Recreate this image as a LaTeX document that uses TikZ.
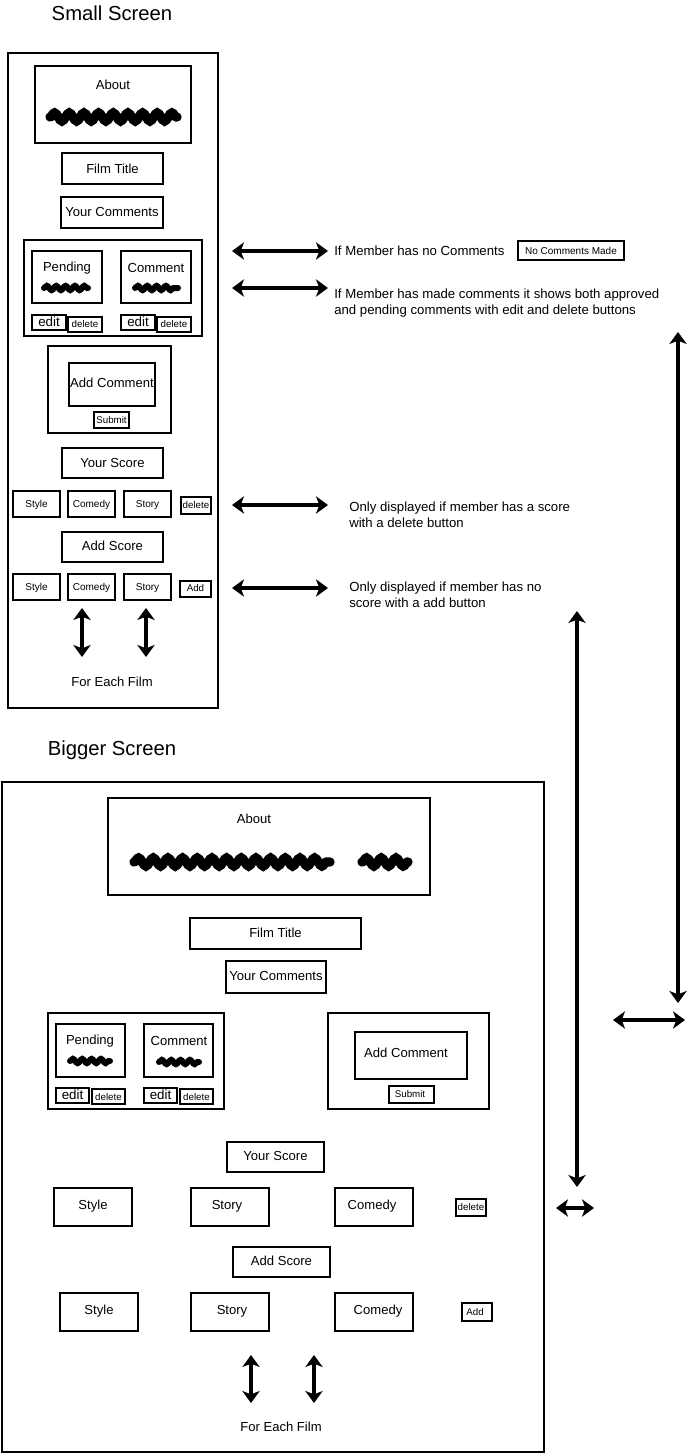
\documentclass[tikz,border=0pt]{standalone}
\usepackage{fontspec}
\setmainfont{Liberation Sans}
\usetikzlibrary{arrows.meta,decorations.pathmorphing}

\tikzset{
  box/.style={line width=1.1pt},
  ttl/.style={font=\fontsize{15.2}{18}\selectfont},
  lbl/.style={font=\fontsize{9.8}{12}\selectfont},
  sml/.style={font=\fontsize{7.5}{9}\selectfont},
  tny/.style={font=\fontsize{7.3}{8}\selectfont, inner sep=0pt},
  edt/.style={font=\fontsize{10}{12}\selectfont, inner sep=0pt},
  note/.style={font=\fontsize{9.9}{12}\selectfont, align=left, anchor=west, inner sep=0pt},
  scrib/.style={line width=7pt, line cap=round, decorate, decoration={snake, amplitude=3pt, segment length=11pt}},
  scribs/.style={line width=4.5pt, line cap=round, decorate, decoration={snake, amplitude=1.6pt, segment length=7pt}},
  dbl/.style={line width=3pt, arrows={Stealth[length=9pt,width=13pt,inset=2.5pt]-Stealth[length=9pt,width=13pt,inset=2.5pt]}}
}

\begin{document}
\begin{tikzpicture}[x=0.75pt, y=-0.75pt]
\useasboundingbox (0,0) rectangle (691,1455);

% Small screen
\node[ttl] (smalltitle) at (112,13) {Small Screen};
\draw[box] (8,53) rectangle (218,708);
\draw[box] (35,66) rectangle (191,143);
\node[lbl] (aboutS) at (113,85) {About};
\draw[scrib] (50,117) -- (177,117);
\draw[box] (62,153) rectangle (163,184);
\node[lbl] (titleS) at (112.5,168.5) {Film Title};
\draw[box] (61,197) rectangle (163,228);
\node[lbl] (yourcomS) at (112,212.5) {Your Comments};
\draw[box] (24,240) rectangle (202,336);
\draw[box] (32,251) rectangle (102,303);
\node[lbl] (pendS) at (67,268) {Pending};
\draw[scribs] (44,288) -- (88,288);
\draw[box] (121,251) rectangle (191,303);
\node[lbl] (comS) at (156,268) {Comment};
\draw[scribs] (135,288) -- (178,288);
\draw[box] (32,315) rectangle (66,330);
\node[edt] (editS) at (49,322) {edit};
\draw[box] (68,317) rectangle (102,332);
\node[tny] (delS) at (85,324.5) {delete};
\draw[box] (121,315) rectangle (155,330);
\node[edt] (editSb) at (138,322) {edit};
\draw[box] (157,317) rectangle (191,332);
\node[tny] (delSb) at (174,324.5) {delete};
\draw[box] (48,346) rectangle (171,433);
\draw[box] (69,363) rectangle (155,406);
\node[lbl] (addcomS) at (112,383) {Add Comment};
\draw[box] (94,412) rectangle (129,428);
\node[tny] (submitS) at (111.5,420) {Submit};
\draw[box] (62,448) rectangle (163,478);
\node[lbl] (scoreS) at (112.5,463) {Your Score};
\draw[box] (13,491) rectangle (60,517);
\node[sml] (styleS) at (36.5,505) {Style};
\draw[box] (68,491) rectangle (115,517);
\node[sml] (comedyS) at (91.5,505) {Comedy};
\draw[box] (124,491) rectangle (171,517);
\node[sml] (storyS) at (147.5,505) {Story};
\draw[box] (181,497) rectangle (211,514);
\node[tny] (delscoreS) at (196,505) {delete};
\draw[box] (62,532) rectangle (163,562);
\node[lbl] (addscoreS) at (112.5,546) {Add Score};
\draw[box] (13,574) rectangle (60,600);
\node[sml] (styleSb) at (36.5,588) {Style};
\draw[box] (68,574) rectangle (115,600);
\node[sml] (comedySb) at (91.5,588) {Comedy};
\draw[box] (124,574) rectangle (171,600);
\node[sml] (storySb) at (147.5,588) {Story};
\draw[box] (180,581) rectangle (211,597);
\node[tny] (addS) at (195.5,588) {Add};
\coordinate (vaS) at (82,608); \coordinate (vbS) at (82,657);
\coordinate (vcS) at (146,608); \coordinate (vdS) at (146,657);
\draw[dbl] (vaS) -- (vbS);
\draw[dbl] (vcS) -- (vdS);
\node[lbl] (eachS) at (112,682) {For Each Film};

% Notes
\coordinate (n1a) at (232,251); \coordinate (n1b) at (328,251);
\coordinate (n2a) at (232,288); \coordinate (n2b) at (328,288);
\coordinate (n3a) at (232,505); \coordinate (n3b) at (328,505);
\coordinate (n4a) at (232,588); \coordinate (n4b) at (328,588);
\draw[dbl] (n1a) -- (n1b);
\draw[dbl] (n2a) -- (n2b);
\draw[dbl] (n3a) -- (n3b);
\draw[dbl] (n4a) -- (n4b);
\node[note] (note1) at (334,251) {If Member has no Comments};
\draw[box] (518,241) rectangle (624,260);
\node[sml] (nocom) at (571,250.5) {No Comments Made};
\node[note] (note2) at (334,303) {If Member has made comments it shows both approved\\and pending comments with edit and delete buttons};
\node[note] (note3) at (349,515) {Only displayed if member has a score\\with a delete button};
\node[note] (note4) at (349,595) {Only displayed if member has no\\score with a add button};
\coordinate (la) at (678,332); \coordinate (lb) at (678,1003);
\coordinate (lc) at (577,611); \coordinate (ld) at (577,1187);
\coordinate (le) at (613,1020); \coordinate (lf) at (685,1020);
\coordinate (lg) at (556,1208); \coordinate (lh) at (594,1208);
\draw[dbl] (la) -- (lb);
\draw[dbl] (lc) -- (ld);
\draw[dbl] (le) -- (lf);
\draw[dbl] (lg) -- (lh);

% Bigger screen
\node[ttl] (bigtitle) at (112,750) {Bigger Screen};
\draw[box] (2,782) rectangle (544,1452);
\draw[box] (108,798) rectangle (430,895);
\node[lbl] (aboutB) at (254,819) {About};
\draw[scrib] (134,862) -- (330,862);
\draw[scrib] (362,862) -- (408,862);
\draw[box] (190,918) rectangle (361,949);
\node[lbl] (titleB) at (275.5,933) {Film Title};
\draw[box] (226,961) rectangle (326,993);
\node[lbl] (yourcomB) at (276,976) {Your Comments};
\draw[box] (48,1013) rectangle (224,1109);
\draw[box] (56,1024) rectangle (125,1077);
\node[lbl] (pendB) at (90,1041) {Pending};
\draw[scribs] (70,1061) -- (110,1061);
\draw[box] (144,1024) rectangle (213,1077);
\node[lbl] (comB) at (179,1041) {Comment};
\draw[scribs] (159,1062) -- (199,1062);
\draw[box] (56,1088) rectangle (89,1103);
\node[edt] (editB) at (72.5,1095) {edit};
\draw[box] (92,1089) rectangle (125,1104);
\node[tny] (delB) at (108.5,1097) {delete};
\draw[box] (144,1088) rectangle (177,1103);
\node[edt] (editBb) at (160.5,1095) {edit};
\draw[box] (180,1089) rectangle (213,1104);
\node[tny] (delBb) at (196.5,1097) {delete};
\draw[box] (328,1013) rectangle (489,1109);
\draw[box] (355,1032) rectangle (467,1079);
\node[lbl] (addcomB) at (406,1053) {Add Comment};
\draw[box] (389,1086) rectangle (434,1103);
\node[tny] (submitB) at (410,1094) {Submit};
\draw[box] (227,1142) rectangle (324,1172);
\node[lbl] (scoreB) at (275.5,1156) {Your Score};
\draw[box] (54,1188) rectangle (132,1226);
\node[lbl] (styleB) at (93,1206) {Style};
\draw[box] (191,1188) rectangle (269,1226);
\node[lbl] (storyB) at (227,1206) {Story};
\draw[box] (335,1188) rectangle (413,1226);
\node[lbl] (comedyB) at (372,1206) {Comedy};
\draw[box] (456,1199) rectangle (486,1216);
\node[tny] (delscoreB) at (471,1207) {delete};
\draw[box] (233,1247) rectangle (330,1277);
\node[lbl] (addscoreB) at (281.5,1261) {Add Score};
\draw[box] (60,1293) rectangle (138,1331);
\node[lbl] (styleBb) at (99,1311) {Style};
\draw[box] (191,1293) rectangle (269,1331);
\node[lbl] (storyBb) at (232,1311) {Story};
\draw[box] (335,1293) rectangle (413,1331);
\node[lbl] (comedyBb) at (378,1311) {Comedy};
\draw[box] (462,1303) rectangle (492,1321);
\node[tny] (addB) at (475,1312) {Add};
\coordinate (vaB) at (251,1355); \coordinate (vbB) at (251,1403);
\coordinate (vcB) at (314,1355); \coordinate (vdB) at (314,1403);
\draw[dbl] (vaB) -- (vbB);
\draw[dbl] (vcB) -- (vdB);
\node[lbl] (eachB) at (281,1427) {For Each Film};
\end{tikzpicture}
\end{document}
